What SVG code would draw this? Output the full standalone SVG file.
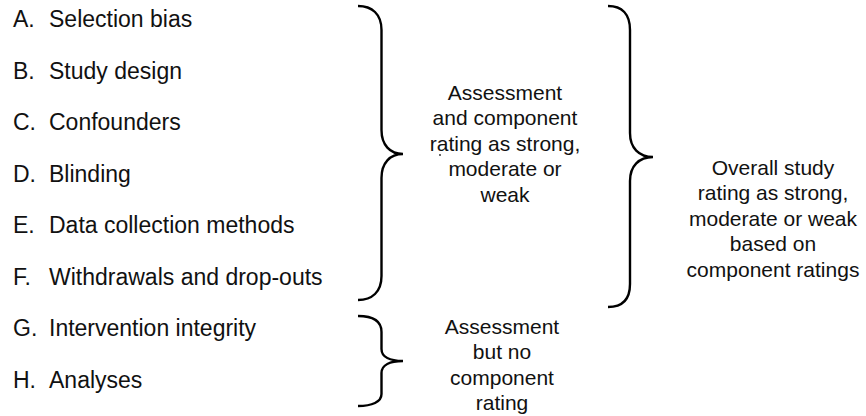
<svg xmlns="http://www.w3.org/2000/svg" width="866" height="416" viewBox="0 0 866 416">
  <style>
    text { font-family: "Liberation Sans", Arial, Helvetica, sans-serif; fill: #111; }
    .item { font-size: 23px; }
    .note { font-size: 21px; text-anchor: middle; }
    .brace { fill: none; stroke: #000; stroke-width: 2.4; stroke-linecap: butt; }
  </style>
  <rect width="866" height="416" fill="#fff"/>

  <!-- Component list -->
  <g id="item-a"><text class="item" x="13" y="27">A.</text><text class="item" x="49" y="27">Selection bias</text></g>
  <g id="item-b"><text class="item" x="13" y="78.5">B.</text><text class="item" x="49" y="78.5">Study design</text></g>
  <g id="item-c"><text class="item" x="13" y="130">C.</text><text class="item" x="49" y="130">Confounders</text></g>
  <g id="item-d"><text class="item" x="13" y="181.5">D.</text><text class="item" x="49" y="181.5">Blinding</text></g>
  <g id="item-e"><text class="item" x="13" y="233">E.</text><text class="item" x="49" y="233">Data collection methods</text></g>
  <g id="item-f"><text class="item" x="13" y="284.5">F.</text><text class="item" x="49" y="284.5">Withdrawals and drop-outs</text></g>
  <g id="item-g"><text class="item" x="13" y="336">G.</text><text class="item" x="49" y="336">Intervention integrity</text></g>
  <g id="item-h"><text class="item" x="13" y="388">H.</text><text class="item" x="49" y="388">Analyses</text></g>

  <!-- Braces grouping the components -->
  <g id="connectors">
    <path class="brace" d="M358,6 C372,6 381.5,14 381.5,30 L381.5,130 C381.5,145 390,154 403,154 C390,154 381.5,163 381.5,178 L381.5,276 C381.5,292 372,300 358,300"/>
    <path class="brace" d="M608,6 C622,6 630,14 630,30 L630,133 C630,148 639,157 653,157 C639,157 630,166 630,181 L630,284 C630,300 622,307 608,307"/>
    <path class="brace" d="M358,316 C372,316 381.5,320 381.5,332 L381.5,349 C381.5,357 390,361 403,361 C390,361 381.5,365 381.5,373 L381.5,394 C381.5,402 372,406 358,406"/>
  </g>

  <!-- Outcome of the first six components -->
  <g id="component-rating">
    <text class="note" x="505" y="100">Assessment</text>
    <text class="note" x="505" y="125.4">and component</text>
    <text class="note" x="505" y="150.8">rating as strong,</text>
    <text class="note" x="505" y="176.2">moderate or</text>
    <text class="note" x="505" y="201.6">weak</text>
    <circle cx="440" cy="155" r="0.9" fill="#222"/>
  </g>

  <!-- Outcome of the last two components -->
  <g id="no-rating">
    <text class="note" x="502" y="334">Assessment</text>
    <text class="note" x="502" y="359.4">but no</text>
    <text class="note" x="502" y="384.8">component</text>
    <text class="note" x="502" y="410.2">rating</text>
  </g>

  <!-- Overall rating -->
  <g id="overall-rating">
    <text class="note" x="773" y="175">Overall study</text>
    <text class="note" x="773" y="200.4">rating as strong,</text>
    <text class="note" x="773" y="225.8">moderate or weak</text>
    <text class="note" x="773" y="251.2">based on</text>
    <text class="note" x="773" y="276.6">component ratings</text>
  </g>
</svg>
